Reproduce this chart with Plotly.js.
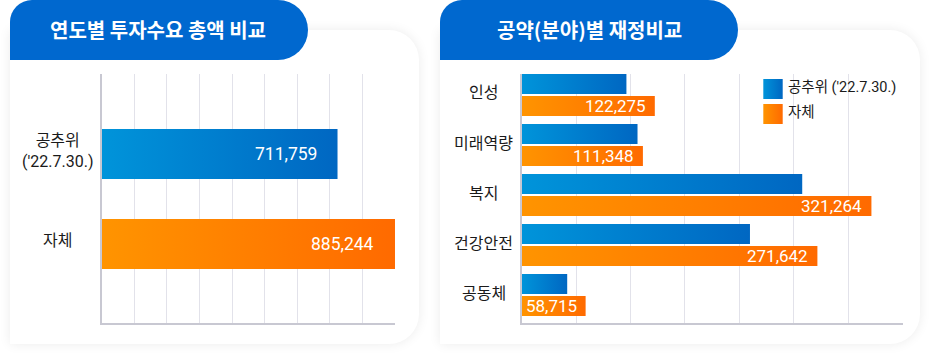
<!DOCTYPE html>
<html><head><meta charset="utf-8">
<script src="https://cdn.plot.ly/plotly-3.0.1.min.js"></script>
<style>
html,body{margin:0;padding:0;background:#fff;width:930px;height:355px;overflow:hidden;}
#wrap{position:relative;width:930px;height:355px;}
.card{position:absolute;top:30px;height:314px;background:#fff;border-radius:0 30px 30px 0;box-shadow:0 0 12px rgba(0,0,0,0.08);}
.pill{position:absolute;top:0;height:60px;width:298px;background:#0068cf;border-radius:22px 30px 30px 0;}
#chart{position:absolute;left:0;top:0;width:930px;height:355px;}
</style></head><body>
<div id="wrap">
<div class="card" style="left:10px;width:409px"></div>
<div class="card" style="left:440px;width:480px"></div>
<div class="pill" style="left:10px"></div>
<div class="pill" style="left:440px"></div>
<div id="chart"></div>
</div>
<script>
// ---- data ----
const titleLeft = '연도별 투자수요 총액 비교';
const titleRight = '공약(분야)별 재정비교';
const totalCats = ['공추위', '자체'];
const totalCatLabels = ["공추위<br>('22.7.30.)", '자체'];
const totalValues = [711759, 885244];
const fieldCats = ['인성', '미래역량', '복지', '건강안전', '공동체'];
const seriesNames = ["공추위 ('22.7.30.)", '자체'];
const gongchuwiValues = [96200, 106400, 257700, 209700, 41800];
const jacheValues = [122275, 111348, 321264, 271642, 58715];

// ---- styling ----
const W = 930, H = 355;
const px = x => x / W;
const py = y => 1 - y / H;
const BLUE_KEY = 'rgb(0, 120, 205)';
const ORANGE_KEY = 'rgb(255, 128, 0)';
const KFONT = "Roboto, 'Noto Sans CJK KR', sans-serif";
const gridColor = '#e2e2ea';
const lineColor = '#c8c8d2';
const fmt = v => v.toLocaleString('en-US');

const maxTotal = Math.max(...totalValues);
const leftTicks = [];
for (let i = 0; i <= 9; i++) leftTicks.push(maxTotal * i / 9);

const traces = [
  {type: 'bar', orientation: 'h', x: totalValues, y: totalCats, xaxis: 'x', yaxis: 'y',
   width: 0.556, marker: {color: [BLUE_KEY, ORANGE_KEY], line: {width: 0}}, hoverinfo: 'skip'},
  {type: 'bar', orientation: 'h', name: seriesNames[0], x: gongchuwiValues, y: fieldCats, xaxis: 'x2', yaxis: 'y2',
   width: 0.4, offset: -0.42, marker: {color: BLUE_KEY, line: {width: 0}}, hoverinfo: 'skip'},
  {type: 'bar', orientation: 'h', name: seriesNames[1], x: jacheValues, y: fieldCats, xaxis: 'x2', yaxis: 'y2',
   width: 0.4, offset: 0.02, marker: {color: ORANGE_KEY, line: {width: 0}}, hoverinfo: 'skip'}
];

const annotations = [];
// headers
annotations.push({xref: 'paper', yref: 'paper', x: px(158), y: py(29), text: titleLeft, showarrow: false,
  xanchor: 'center', yanchor: 'middle', font: {family: "'Noto Sans CJK KR', sans-serif", size: 20, color: '#fff', weight: 700}});
annotations.push({xref: 'paper', yref: 'paper', x: px(589), y: py(29), text: titleRight, showarrow: false,
  xanchor: 'center', yanchor: 'middle', font: {family: "'Noto Sans CJK KR', sans-serif", size: 20, color: '#fff', weight: 700}});
// left category labels + values
totalCats.forEach((c, i) => {
  annotations.push({xref: 'paper', yref: 'y', x: px(57), y: c, text: totalCatLabels[i], showarrow: false,
    xanchor: 'center', yanchor: 'middle', align: 'center', yshift: 3,
    font: {family: KFONT, size: 16, color: '#1a1a1a'}});
  annotations.push({xref: 'x', yref: 'y', x: totalValues[i], y: c, text: fmt(totalValues[i]), showarrow: false,
    xanchor: 'right', yanchor: 'middle', xshift: -19,
    font: {family: 'Roboto, sans-serif', size: 17.5, color: '#fff'}});
});
// right category labels + values
fieldCats.forEach((c, i) => {
  annotations.push({xref: 'paper', yref: 'y2', x: px(484), y: c, text: c, showarrow: false,
    xanchor: 'center', yanchor: 'middle', yshift: 2,
    font: {family: KFONT, size: 16, color: '#1a1a1a'}});
  annotations.push({xref: 'x2', yref: 'y2', x: jacheValues[i], y: c, text: fmt(jacheValues[i]), showarrow: false,
    xanchor: 'right', yanchor: 'middle', xshift: -7, yshift: -11,
    font: {family: 'Roboto, sans-serif', size: 17, color: '#fff'}});
});
// legend
const legY = [89, 114];
const legKeys = [BLUE_KEY, ORANGE_KEY];
const shapes = [];
seriesNames.forEach((n, i) => {
  shapes.push({type: 'rect', xref: 'paper', yref: 'paper', x0: px(763.3), x1: px(782.7),
    y0: py(legY[i] + 10), y1: py(legY[i] - 10), fillcolor: legKeys[i], line: {width: 0}, layer: 'above'});
  annotations.push({xref: 'paper', yref: 'paper', x: px(786), y: py(legY[i] - 2), text: n, showarrow: false,
    xanchor: 'left', yanchor: 'middle', font: {family: KFONT, size: 14.5, color: '#1a1a1a'}});
});

const axBase = {showticklabels: false, ticks: '', zeroline: false, fixedrange: true};
const layout = {
  width: W, height: H, margin: {l: 0, r: 0, t: 0, b: 0},
  paper_bgcolor: 'rgba(0,0,0,0)', plot_bgcolor: 'rgba(0,0,0,0)',
  showlegend: false, barmode: 'overlay',
  xaxis: Object.assign({}, axBase, {domain: [px(101.7), px(395)], range: [0, maxTotal], tickmode: 'array', tickvals: leftTicks,
    showgrid: true, gridcolor: gridColor, gridwidth: 1, showline: true, linecolor: lineColor, linewidth: 1.5, anchor: 'y'}),
  yaxis: Object.assign({}, axBase, {domain: [py(323), py(74)], type: 'category', categoryarray: totalCats,
    range: [1.878, -0.889], showgrid: false, showline: true, linecolor: lineColor, linewidth: 1.5, anchor: 'x'}),
  xaxis2: Object.assign({}, axBase, {domain: [px(521.7), px(902.7)], range: [0, 350000], dtick: 50000, tick0: 0,
    showgrid: true, gridcolor: gridColor, gridwidth: 1, showline: true, linecolor: lineColor, linewidth: 1.5, anchor: 'y2'}),
  yaxis2: Object.assign({}, axBase, {domain: [py(323), py(74)], type: 'category', categoryarray: fieldCats,
    range: [4.56, -0.42], showgrid: false, showline: true, linecolor: lineColor, linewidth: 1.5, anchor: 'x2'}),
  annotations: annotations, shapes: shapes
};

function applyGradients(gd) {
  const ns = 'http://www.w3.org/2000/svg';
  const svg = gd.querySelector('svg.main-svg');
  let defs = svg.querySelector('defs');
  if (!defs) { defs = document.createElementNS(ns, 'defs'); svg.insertBefore(defs, svg.firstChild); }
  function grad(id, c1, c2) {
    const g = document.createElementNS(ns, 'linearGradient');
    g.setAttribute('id', id); g.setAttribute('x1', '0'); g.setAttribute('x2', '1'); g.setAttribute('y1', '0'); g.setAttribute('y2', '0');
    [[0, c1], [1, c2]].forEach(([o, c]) => {
      const s = document.createElementNS(ns, 'stop'); s.setAttribute('offset', o); s.setAttribute('stop-color', c); g.appendChild(s);
    });
    defs.appendChild(g);
  }
  grad('gBlue', '#0094da', '#0067c2');
  grad('gOrange', '#ff9400', '#ff6a00');
  const bk = BLUE_KEY.replace(/\s/g, ''), ok = ORANGE_KEY.replace(/\s/g, '');
  gd.querySelectorAll('path').forEach(p => {
    const f = (p.style.fill || '').replace(/\s/g, '');
    if (f === bk) p.style.fill = 'url(#gBlue)';
    else if (f === ok) p.style.fill = 'url(#gOrange)';
  });
}

Plotly.newPlot('chart', traces, layout, {staticPlot: true, displayModeBar: false}).then(applyGradients);
</script>
</body></html>
